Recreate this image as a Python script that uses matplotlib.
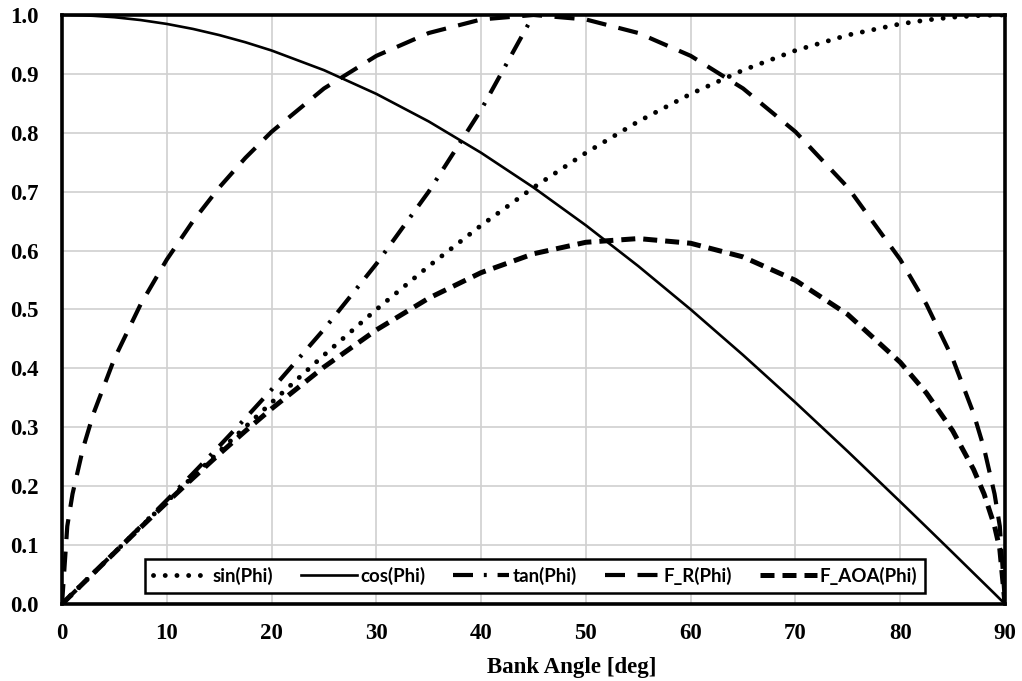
import matplotlib
matplotlib.use("Agg")
import matplotlib.pyplot as plt
import numpy as np

# Bank angle [deg]
phi = [0, 0.5, 1, 2, 3, 5, 7.5, 10, 12.5, 15, 17.5, 20, 25, 30, 35, 40, 45,
       50, 55, 60, 65, 70, 75, 80, 82.5, 85, 87, 88, 89, 89.5, 90]

sin_phi = [0, 0.0087, 0.0175, 0.0349, 0.0523, 0.0872, 0.1305, 0.1736, 0.2164, 0.2588,
           0.3007, 0.3420, 0.4226, 0.5000, 0.5736, 0.6428, 0.7071, 0.7660, 0.8192,
           0.8660, 0.9063, 0.9397, 0.9659, 0.9848, 0.9914, 0.9962, 0.9986, 0.9994,
           0.9998, 1.0000, 1.0000]

cos_phi = [1.0, 1.0, 0.9998, 0.9994, 0.9986, 0.9962, 0.9914, 0.9848, 0.9763, 0.9659,
           0.9537, 0.9397, 0.9063, 0.8660, 0.8192, 0.7660, 0.7071, 0.6428, 0.5736,
           0.5000, 0.4226, 0.3420, 0.2588, 0.1736, 0.1305, 0.0872, 0.0523, 0.0349,
           0.0175, 0.0087, 0.0]

# tan(Phi) shown only up to 45 deg
tan_phi = [0, 0.0087, 0.0175, 0.0349, 0.0524, 0.0875, 0.1317, 0.1763, 0.2217, 0.2679,
           0.3153, 0.3640, 0.4663, 0.5774, 0.7002, 0.8391, 1.0000]

f_r = [0, 0.1321, 0.1868, 0.2641, 0.3233, 0.4167, 0.5087, 0.5848, 0.6501, 0.7071,
       0.7574, 0.8017, 0.8752, 0.9306, 0.9694, 0.9924, 1.0000, 0.9924, 0.9694,
       0.9306, 0.8752, 0.8017, 0.7071, 0.5848, 0.5087, 0.4167, 0.3233, 0.2641,
       0.1868, 0.1321, 0.0]

f_aoa = [0, 0.0087, 0.0175, 0.0349, 0.0523, 0.0870, 0.1299, 0.1723, 0.2138, 0.2544,
         0.2937, 0.3315, 0.4023, 0.4653, 0.5192, 0.5626, 0.5946, 0.6141, 0.6204,
         0.6124, 0.5892, 0.5495, 0.4914, 0.4103, 0.3581, 0.2942, 0.2284, 0.1867,
         0.1323, 0.0934, 0.0]

x_ticks = [0, 10, 20, 30, 40, 50, 60, 70, 80, 90]
y_ticks = [0.0, 0.1, 0.2, 0.3, 0.4, 0.5, 0.6, 0.7, 0.8, 0.9, 1.0]

fig = plt.figure(figsize=(10.22, 6.81), dpi=100)
ax = fig.add_axes([0.0607, 0.1131, 0.9227, 0.8649])

ax.plot(phi, sin_phi, color='black', lw=3.5, linestyle=(0, (0.01, 2.4)),
        dash_capstyle='round', solid_capstyle='round', label='sin(Phi)')
ax.plot(phi, cos_phi, color='black', lw=1.9, linestyle='-', label='cos(Phi)')
ax.plot(phi[:len(tan_phi)], tan_phi, color='black', lw=3.0,
        linestyle=(0, (4.8, 2.6, 0.7, 2.6)), label='tan(Phi)')
ax.plot(phi, f_r, color='black', lw=3.0, linestyle=(0, (4.8, 3.0)), label='F_R(Phi)')
ax.plot(phi, f_aoa, color='black', lw=3.6, linestyle=(0, (2.8, 1.6)), label='F_AOA(Phi)')

ax.set_xlim(0, 90)
ax.set_ylim(0, 1.0)
ax.set_xticks(x_ticks)
ax.set_yticks(y_ticks)
ax.set_xticklabels([str(v) for v in x_ticks])
ax.set_yticklabels([f"{v:.1f}" for v in y_ticks])
ax.grid(True, color='#d0d0d0', lw=1.2)
ax.set_axisbelow(True)
ax.tick_params(axis='x', length=0, pad=14)
ax.tick_params(axis='y', length=0, pad=16.5)
for lab in ax.get_xticklabels() + ax.get_yticklabels():
    lab.set_fontfamily('Liberation Serif')
    lab.set_fontweight('bold')
    lab.set_fontsize(16.5)

for s in ax.spines.values():
    s.set_linewidth(2.6)
    s.set_color('black')

ax.set_xlabel('Bank Angle [deg]', fontfamily='Liberation Serif', fontweight='bold',
              fontsize=16.5, labelpad=4)
ax.xaxis.set_label_coords(0.54, -0.09)

leg = ax.legend(loc='center', bbox_to_anchor=(0.5016, 0.0475), ncol=5,
                frameon=True, fancybox=False, edgecolor='black', framealpha=1,
                handlelength=3.0, columnspacing=1.5, handletextpad=0.15,
                borderpad=0.45,
                prop={'family': ['Lato', 'DejaVu Sans'],
                      'weight': 'bold', 'size': 13.5})
leg.get_frame().set_linewidth(1.8)

fig.savefig('out.png', dpi=100)
